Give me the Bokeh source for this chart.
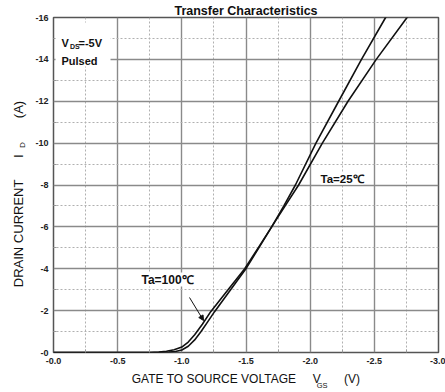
from bokeh.embed import file_html
from bokeh.models import (Arrow, BoxAnnotation, FixedTicker, Label, LinearAxis,
                          NormalHead, Range1d)
from bokeh.plotting import figure
from bokeh.resources import INLINE

# Gate-source voltage (V) and drain current (A), Ta = 25 degC
vgs_25 = [0.0, -0.84, -0.90, -0.95, -1.00, -1.05, -1.10, -1.15, -1.20, -1.255,
          -1.38, -1.505, -1.60, -1.70, -1.795, -1.885, -2.045, -2.222, -2.40,
          -2.588, -2.68]
id_25 = [0.0, 0.0, -0.02, -0.05, -0.12, -0.30, -0.60, -1.00, -1.45, -1.95,
         -3.0, -4.05, -5.0, -6.0, -7.0, -8.0, -10.0, -12.0, -14.0, -16.0, -17.0]

# Ta = 100 degC
vgs_100 = [0.0, -0.75, -0.82, -0.88, -0.94, -1.00, -1.05, -1.10, -1.16, -1.225,
           -1.36, -1.49, -1.595, -1.70, -1.805, -1.91, -2.095, -2.295, -2.515,
           -2.755, -2.88]
id_100 = [0.0, 0.0, -0.02, -0.06, -0.13, -0.26, -0.50, -0.85, -1.35, -1.95,
          -3.0, -4.0, -5.0, -6.0, -7.0, -8.0, -10.0, -12.0, -14.0, -16.0, -17.0]

x_ticks = [0.0, -0.5, -1.0, -1.5, -2.0, -2.5, -3.0]
x_tick_labels = ["-0.0", "-0.5", "-1.0", "-1.5", "-2.0", "-2.5", "-3.0"]
x_minor = [-0.25, -0.75, -1.25, -1.75, -2.25, -2.75]
y_ticks = [0, -2, -4, -6, -8, -10, -12, -14, -16]
y_tick_labels = ["-0", "-2", "-4", "-6", "-8", "-10", "-12", "-14", "-16"]
y_minor = [-1, -3, -5, -7, -9, -11, -13, -15]

W, H = 445, 392
LEFT, RIGHT, TOP, BOTTOM = 53, 7, 17, 40
FONT = "Liberation Sans"
NB = "\u00a0"

p = figure(width=W, height=H, output_backend="svg", toolbar_location=None,
           x_range=Range1d(0, -3), y_range=Range1d(0, -16),
           min_border_left=LEFT, min_border_right=RIGHT,
           min_border_top=TOP, min_border_bottom=BOTTOM,
           title="Transfer Characteristics")
p.background_fill_color = "white"
p.border_fill_color = "white"
p.outline_line_color = "#555555"
p.outline_line_width = 1.5

p.title.align = "center"
p.title.text_font = FONT
p.title.text_font_size = "12.5px"
p.title.text_font_style = "bold"
p.title.text_color = "#111111"
p.title.standoff = 0

# frame geometry used to place annotation text in pixels
fw = W - LEFT - RIGHT
fh = H - TOP - BOTTOM


def px2x(px):
    return (px - LEFT) / fw * -3.0


def py2y(py):
    return (H - BOTTOM - py) / fh * -16.0


def label_style(ax, size):
    ax.axis_label_text_font = FONT
    ax.axis_label_text_font_size = size
    ax.axis_label_text_font_style = "normal"
    ax.axis_label_text_color = "#111111"


for ax, ticks, minor, labels in ((p.xaxis[0], x_ticks, x_minor, x_tick_labels),
                                 (p.yaxis[0], y_ticks, y_minor, y_tick_labels)):
    ax.ticker = FixedTicker(ticks=ticks, minor_ticks=minor)
    ax.major_label_overrides = dict(zip(ticks, labels))
    ax.major_label_text_font = FONT
    ax.major_label_text_font_size = "9px"
    ax.major_label_text_font_style = "bold"
    ax.major_label_text_color = "#222222"
    ax.axis_line_color = None
    ax.major_tick_in = 0
    ax.major_tick_out = 0
    ax.minor_tick_in = 3
    ax.minor_tick_out = 0
    ax.minor_tick_line_color = "#999999"
    ax.major_label_standoff = 5


def text_axis(text, size, standoff):
    """An axis that only carries a title (used for the small subscripts)."""
    ax = LinearAxis(ticker=FixedTicker(ticks=[]), axis_line_color=None,
                    major_tick_in=0, major_tick_out=0, minor_tick_in=0,
                    minor_tick_out=0, major_label_standoff=0,
                    axis_label=text, axis_label_standoff=standoff)
    label_style(ax, size)
    return ax


# x axis title: GATE TO SOURCE VOLTAGE  V_GS  (V)
p.xaxis[0].axis_label = ("GATE TO SOURCE VOLTAGE" + NB * 5 + "V" + NB * 7 + "(V)")
label_style(p.xaxis[0], "12px")
p.xaxis[0].axis_label_standoff = 5
p.add_layout(text_axis(NB * 73 + "GS", "7.5px", -8), "below")

# y axis title: DRAIN CURRENT  I_D  (A)
p.add_layout(text_axis(NB * 36 + "D", "8px", 6), "left")
p.add_layout(text_axis("DRAIN CURRENT" + NB * 6 + "I" + NB * 10 + "(A)" + NB * 5,
                       "13px", -11), "left")

for g in (p.xgrid[0], p.ygrid[0]):
    g.grid_line_color = "#8a8a8a"
    g.grid_line_width = 1.4
    g.minor_grid_line_color = "#b0b0b0"
    g.minor_grid_line_width = 1
    g.minor_grid_line_dash = "2 2"
p.xgrid[0].ticker = FixedTicker(ticks=x_ticks, minor_ticks=x_minor)
p.ygrid[0].ticker = FixedTicker(ticks=y_ticks, minor_ticks=y_minor)

p.line(vgs_25, id_25, line_color="#111111", line_width=1.6)
p.line(vgs_100, id_100, line_color="#111111", line_width=1.6)

# white panel behind the test-condition note
p.add_layout(BoxAnnotation(left=px2x(55), right=px2x(110), top=py2y(22),
                           bottom=py2y(66), fill_color="white", fill_alpha=1,
                           line_color=None))


def txt(x, y, s, size="11px", base="alphabetic", bg=None):
    lab = Label(x=x, y=y, text=s, text_font=FONT, text_font_size=size,
                text_font_style="bold", text_align="left", text_baseline=base,
                text_color="#111111")
    if bg:
        lab.background_fill_color = bg
        lab.background_fill_alpha = 1
    p.add_layout(lab)


txt(px2x(61), py2y(42), "V")
txt(px2x(69.5), py2y(46), "DS", size="7px")
txt(px2x(78), py2y(42), "=-5V")
txt(px2x(61), py2y(60), "Pulsed")

txt(px2x(320), py2y(178), "Ta=25\u2103", size="11.5px", base="middle", bg="white")
txt(px2x(141), py2y(279), "Ta=100\u2103", size="12px", base="middle", bg="white")

p.add_layout(Arrow(end=NormalHead(size=5, fill_color="#111111",
                                  line_color="#111111"),
                   x_start=px2x(189), y_start=py2y(297),
                   x_end=px2x(203), y_end=py2y(320),
                   line_color="#111111", line_width=1))

open("out.html", "w").write(file_html(p, INLINE))
